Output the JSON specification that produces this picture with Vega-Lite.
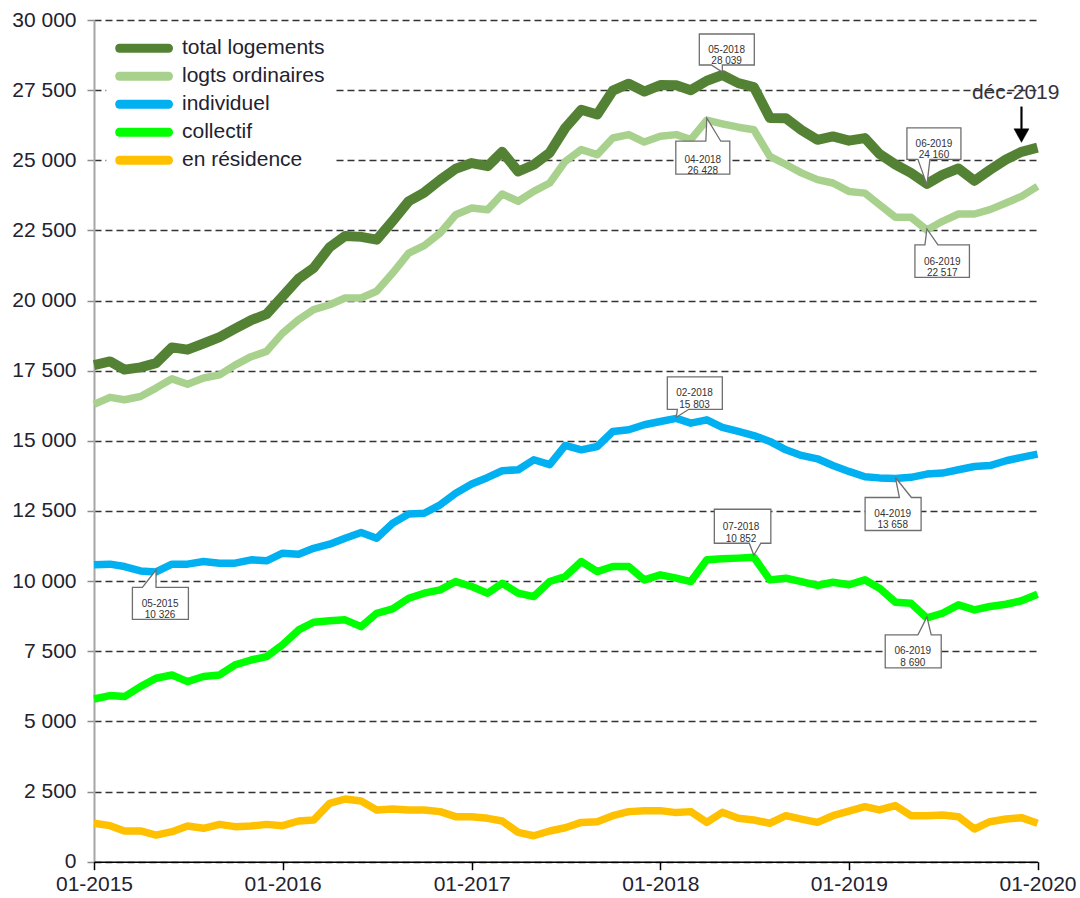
{
  "$schema": "https://vega.github.io/schema/vega-lite/v6.json",
  "width": 943.5,
  "height": 841.7,
  "autosize": {"type": "none"},
  "padding": {"left": 94, "top": 20, "right": 42.5, "bottom": 36.3},
  "background": "white",
  "config": {"font": "Liberation Sans", "view": {"stroke": null}},
  "encoding": {
    "x": {
      "field": "date", "type": "temporal",
      "scale": {"type": "utc", "domain": [{"year": 2015, "month": 1, "date": 1, "utc": true}, {"year": 2020, "month": 1, "date": 1, "utc": true}]},
      "axis": {
        "title": null,
        "values": [{"year": 2015, "month": 1, "date": 1, "utc": true}, {"year": 2016, "month": 1, "date": 1, "utc": true}, {"year": 2017, "month": 1, "date": 1, "utc": true}, {"year": 2018, "month": 1, "date": 1, "utc": true}, {"year": 2019, "month": 1, "date": 1, "utc": true}, {"year": 2020, "month": 1, "date": 1, "utc": true}],
        "labelExpr": "utcFormat(datum.value, '%m-%Y')",
        "labelFontSize": 21, "labelColor": "#222230", "labelPadding": 4,
        "labelFlush": false, "labelOverlap": false, "labelBound": false,
        "ticks": true, "tickSize": 8, "tickColor": "#000000", "tickWidth": 1.5,
        "domainColor": "#000000", "domainWidth": 1.6,
        "grid": false, "zindex": 1
      }
    },
    "y": {
      "field": "value", "type": "quantitative",
      "scale": {"domain": [0, 30000], "nice": false, "zero": true},
      "axis": {
        "title": null,
        "values": [0, 2500, 5000, 7500, 10000, 12500, 15000, 17500, 20000, 22500, 25000, 27500, 30000],
        "labelExpr": "replace(format(datum.value, ',d'), ',', ' ')",
        "labelFontSize": 21, "labelColor": "#222230", "labelPadding": 11, "labelOverlap": false,
        "tickSize": 7, "tickColor": "#8c8c8c", "tickWidth": 1.5,
        "domainColor": "#a6a6a6", "domainWidth": 2,
        "grid": true, "gridColor": "#333333", "gridDash": [7, 4], "gridWidth": 1.3
      }
    }
  },
  "layer": [
    {
      "data": {"values": [
        {"date": "2015-01-01", "total logements": 17700, "logts ordinaires": 16300, "individuel": 10580, "collectif": 5800, "en résidence": 1370},
        {"date": "2015-02-01", "total logements": 17830, "logts ordinaires": 16550, "individuel": 10605, "collectif": 5920, "en résidence": 1285},
        {"date": "2015-03-01", "total logements": 17540, "logts ordinaires": 16465, "individuel": 10520, "collectif": 5885, "en résidence": 1095},
        {"date": "2015-04-01", "total logements": 17620, "logts ordinaires": 16580, "individuel": 10365, "collectif": 6240, "en résidence": 1095},
        {"date": "2015-05-01", "total logements": 17770, "logts ordinaires": 16880, "individuel": 10326, "collectif": 6540, "en résidence": 950},
        {"date": "2015-06-01", "total logements": 18330, "logts ordinaires": 17210, "individuel": 10605, "collectif": 6655, "en résidence": 1070},
        {"date": "2015-07-01", "total logements": 18250, "logts ordinaires": 17020, "individuel": 10605, "collectif": 6420, "en résidence": 1270},
        {"date": "2015-08-01", "total logements": 18470, "logts ordinaires": 17240, "individuel": 10700, "collectif": 6600, "en résidence": 1190},
        {"date": "2015-09-01", "total logements": 18700, "logts ordinaires": 17350, "individuel": 10640, "collectif": 6655, "en résidence": 1330},
        {"date": "2015-10-01", "total logements": 19000, "logts ordinaires": 17700, "individuel": 10640, "collectif": 7015, "en résidence": 1250},
        {"date": "2015-11-01", "total logements": 19300, "logts ordinaires": 18000, "individuel": 10760, "collectif": 7190, "en résidence": 1270},
        {"date": "2015-12-01", "total logements": 19520, "logts ordinaires": 18190, "individuel": 10725, "collectif": 7310, "en résidence": 1330},
        {"date": "2016-01-01", "total logements": 20150, "logts ordinaires": 18840, "individuel": 10995, "collectif": 7730, "en résidence": 1285},
        {"date": "2016-02-01", "total logements": 20780, "logts ordinaires": 19320, "individuel": 10960, "collectif": 8260, "en résidence": 1450},
        {"date": "2016-03-01", "total logements": 21160, "logts ordinaires": 19675, "individuel": 11170, "collectif": 8535, "en résidence": 1485},
        {"date": "2016-04-01", "total logements": 21900, "logts ordinaires": 19850, "individuel": 11315, "collectif": 8585, "en résidence": 2080},
        {"date": "2016-05-01", "total logements": 22300, "logts ordinaires": 20090, "individuel": 11530, "collectif": 8620, "en résidence": 2235},
        {"date": "2016-06-01", "total logements": 22270, "logts ordinaires": 20090, "individuel": 11735, "collectif": 8380, "en résidence": 2165},
        {"date": "2016-07-01", "total logements": 22170, "logts ordinaires": 20330, "individuel": 11530, "collectif": 8855, "en résidence": 1845},
        {"date": "2016-08-01", "total logements": 22840, "logts ordinaires": 20980, "individuel": 12065, "collectif": 9010, "en résidence": 1880},
        {"date": "2016-09-01", "total logements": 23540, "logts ordinaires": 21690, "individuel": 12390, "collectif": 9390, "en résidence": 1845},
        {"date": "2016-10-01", "total logements": 23850, "logts ordinaires": 21960, "individuel": 12420, "collectif": 9570, "en résidence": 1845},
        {"date": "2016-11-01", "total logements": 24300, "logts ordinaires": 22410, "individuel": 12720, "collectif": 9690, "en résidence": 1785},
        {"date": "2016-12-01", "total logements": 24700, "logts ordinaires": 23060, "individuel": 13135, "collectif": 9985, "en résidence": 1605},
        {"date": "2017-01-01", "total logements": 24900, "logts ordinaires": 23300, "individuel": 13460, "collectif": 9810, "en résidence": 1605},
        {"date": "2017-02-01", "total logements": 24790, "logts ordinaires": 23240, "individuel": 13695, "collectif": 9570, "en résidence": 1545},
        {"date": "2017-03-01", "total logements": 25300, "logts ordinaires": 23800, "individuel": 13935, "collectif": 9925, "en résidence": 1450},
        {"date": "2017-04-01", "total logements": 24600, "logts ordinaires": 23540, "individuel": 13970, "collectif": 9570, "en résidence": 1045},
        {"date": "2017-05-01", "total logements": 24840, "logts ordinaires": 23890, "individuel": 14325, "collectif": 9450, "en résidence": 925},
        {"date": "2017-06-01", "total logements": 25270, "logts ordinaires": 24190, "individuel": 14150, "collectif": 9985, "en résidence": 1095},
        {"date": "2017-07-01", "total logements": 26150, "logts ordinaires": 24960, "individuel": 14835, "collectif": 10165, "en résidence": 1210},
        {"date": "2017-08-01", "total logements": 26800, "logts ordinaires": 25380, "individuel": 14680, "collectif": 10700, "en résidence": 1400},
        {"date": "2017-09-01", "total logements": 26630, "logts ordinaires": 25200, "individuel": 14800, "collectif": 10340, "en résidence": 1425},
        {"date": "2017-10-01", "total logements": 27480, "logts ordinaires": 25795, "individuel": 15335, "collectif": 10520, "en résidence": 1640},
        {"date": "2017-11-01", "total logements": 27730, "logts ordinaires": 25915, "individuel": 15395, "collectif": 10520, "en résidence": 1785},
        {"date": "2017-12-01", "total logements": 27450, "logts ordinaires": 25650, "individuel": 15575, "collectif": 10045, "en résidence": 1820},
        {"date": "2018-01-01", "total logements": 27680, "logts ordinaires": 25860, "individuel": 15690, "collectif": 10225, "en résidence": 1820},
        {"date": "2018-02-01", "total logements": 27670, "logts ordinaires": 25915, "individuel": 15803, "collectif": 10105, "en résidence": 1750},
        {"date": "2018-03-01", "total logements": 27500, "logts ordinaires": 25740, "individuel": 15630, "collectif": 9985, "en résidence": 1785},
        {"date": "2018-04-01", "total logements": 27835, "logts ordinaires": 26428, "individuel": 15750, "collectif": 10760, "en résidence": 1400},
        {"date": "2018-05-01", "total logements": 28039, "logts ordinaires": 26300, "individuel": 15480, "collectif": 10795, "en résidence": 1760},
        {"date": "2018-06-01", "total logements": 27750, "logts ordinaires": 26180, "individuel": 15335, "collectif": 10820, "en résidence": 1545},
        {"date": "2018-07-01", "total logements": 27610, "logts ordinaires": 26090, "individuel": 15190, "collectif": 10852, "en résidence": 1485},
        {"date": "2018-08-01", "total logements": 26510, "logts ordinaires": 25140, "individuel": 14980, "collectif": 10045, "en résidence": 1370},
        {"date": "2018-09-01", "total logements": 26500, "logts ordinaires": 24850, "individuel": 14680, "collectif": 10105, "en résidence": 1640},
        {"date": "2018-10-01", "total logements": 26080, "logts ordinaires": 24550, "individuel": 14480, "collectif": 9985, "en résidence": 1520},
        {"date": "2018-11-01", "total logements": 25730, "logts ordinaires": 24310, "individuel": 14360, "collectif": 9845, "en résidence": 1400},
        {"date": "2018-12-01", "total logements": 25850, "logts ordinaires": 24190, "individuel": 14120, "collectif": 9960, "en résidence": 1640},
        {"date": "2019-01-01", "total logements": 25700, "logts ordinaires": 23890, "individuel": 13910, "collectif": 9870, "en résidence": 1805},
        {"date": "2019-02-01", "total logements": 25790, "logts ordinaires": 23830, "individuel": 13720, "collectif": 10045, "en résidence": 1960},
        {"date": "2019-03-01", "total logements": 25230, "logts ordinaires": 23420, "individuel": 13680, "collectif": 9750, "en résidence": 1845},
        {"date": "2019-04-01", "total logements": 24850, "logts ordinaires": 22970, "individuel": 13658, "collectif": 9250, "en résidence": 2000},
        {"date": "2019-05-01", "total logements": 24550, "logts ordinaires": 22970, "individuel": 13700, "collectif": 9215, "en résidence": 1640},
        {"date": "2019-06-01", "total logements": 24160, "logts ordinaires": 22517, "individuel": 13815, "collectif": 8690, "en résidence": 1640},
        {"date": "2019-07-01", "total logements": 24480, "logts ordinaires": 22825, "individuel": 13850, "collectif": 8855, "en résidence": 1665},
        {"date": "2019-08-01", "total logements": 24710, "logts ordinaires": 23085, "individuel": 13970, "collectif": 9155, "en résidence": 1605},
        {"date": "2019-09-01", "total logements": 24270, "logts ordinaires": 23085, "individuel": 14085, "collectif": 8975, "en résidence": 1165},
        {"date": "2019-10-01", "total logements": 24660, "logts ordinaires": 23240, "individuel": 14120, "collectif": 9095, "en résidence": 1425},
        {"date": "2019-11-01", "total logements": 25030, "logts ordinaires": 23480, "individuel": 14290, "collectif": 9175, "en résidence": 1520},
        {"date": "2019-12-01", "total logements": 25300, "logts ordinaires": 23715, "individuel": 14410, "collectif": 9300, "en résidence": 1570},
        {"date": "2020-01-01", "total logements": 25450, "logts ordinaires": 24070, "individuel": 14525, "collectif": 9535, "en résidence": 1370}
      ]},
      "transform": [{"fold": ["total logements", "logts ordinaires", "individuel", "collectif", "en résidence"], "as": ["series", "value"]}],
      "mark": {"type": "line", "strokeJoin": "round", "strokeCap": "butt"},
      "encoding": {
        "color": {
          "field": "series", "type": "nominal",
          "scale": {"domain": ["total logements", "logts ordinaires", "individuel", "collectif", "en résidence"], "range": ["#548235", "#a9d18e", "#00b0f0", "#00ff00", "#ffc000"]},
          "legend": {
            "title": null, "orient": "none", "legendX": 12.25, "legendY": 5.5,
            "symbolType": "M-2.58,0L2.58,0", "symbolSize": 361, "symbolStrokeWidth": 9, "symbolOffset": 14.75,
            "labelOffset": 24, "labelFontSize": 21, "labelColor": "#222230", "labelLimit": 400,
            "clipHeight": 27.4, "rowPadding": 0, "padding": 9, "fillColor": "#ffffff",
            "encode": {"symbols": {"update": {"strokeCap": {"value": "round"}}}}
          }
        },
        "strokeWidth": {"condition": {"test": "datum.series === 'total logements'", "value": 10}, "value": 7.5}
      }
    },
    {
      "data": {"values": [{"date": "2018-05-01", "value": 28039, "label": "05-2018\n28 039"}]},
      "layer": [
        {"mark": {"type": "point", "shape": "M0,-3L0,-10L32,-10L32,-41L-23,-41L-23,-10L-11,-10Z", "size": 4, "filled": true, "fill": "#ffffff", "stroke": "#6f6f6f", "strokeWidth": 1.3, "opacity": 1}},
        {"mark": {"type": "text", "dx": 4.3, "dy": -25.3, "fontSize": 10, "lineBreak": "\n", "lineHeight": 11.5, "fill": "#333333", "align": "center", "baseline": "middle"}, "encoding": {"text": {"field": "label"}}}
      ]
    },
    {
      "data": {"values": [{"date": "2018-04-01", "value": 26428, "label": "04-2018\n26 428"}]},
      "layer": [
        {"mark": {"type": "point", "shape": "M0,-2L-1,21L-31,21L-31,54L23,54L23,21L14,21Z", "size": 4, "filled": true, "fill": "#ffffff", "stroke": "#6f6f6f", "strokeWidth": 1.3, "opacity": 1}},
        {"mark": {"type": "text", "dx": -4, "dy": 39.5, "fontSize": 10, "lineBreak": "\n", "lineHeight": 11.5, "fill": "#333333", "align": "center", "baseline": "middle"}, "encoding": {"text": {"field": "label"}}}
      ]
    },
    {
      "data": {"values": [{"date": "2019-06-01", "value": 24160, "label": "06-2019\n24 160"}]},
      "layer": [
        {"mark": {"type": "point", "shape": "M0,1L3,-24.5L34,-24.5L34,-56L-20,-56L-20,-24.5L-9,-24.5Z", "size": 4, "filled": true, "fill": "#ffffff", "stroke": "#6f6f6f", "strokeWidth": 1.3, "opacity": 1}},
        {"mark": {"type": "text", "dx": 7, "dy": -40, "fontSize": 10, "lineBreak": "\n", "lineHeight": 11.5, "fill": "#333333", "align": "center", "baseline": "middle"}, "encoding": {"text": {"field": "label"}}}
      ]
    },
    {
      "data": {"values": [{"date": "2019-06-01", "value": 22517, "label": "06-2019\n22 517"}]},
      "layer": [
        {"mark": {"type": "point", "shape": "M0,-1L-2,15L-12,15L-12,47.5L42.5,47.5L42.5,15L11,15Z", "size": 4, "filled": true, "fill": "#ffffff", "stroke": "#6f6f6f", "strokeWidth": 1.3, "opacity": 1}},
        {"mark": {"type": "text", "dx": 15.3, "dy": 31.8, "fontSize": 10, "lineBreak": "\n", "lineHeight": 11.5, "fill": "#333333", "align": "center", "baseline": "middle"}, "encoding": {"text": {"field": "label"}}}
      ]
    },
    {
      "data": {"values": [{"date": "2018-02-01", "value": 15803, "label": "02-2018\n15 803"}]},
      "layer": [
        {"mark": {"type": "point", "shape": "M0,-1L1,-9L-9,-9L-9,-41.5L46,-41.5L46,-9L12.5,-9Z", "size": 4, "filled": true, "fill": "#ffffff", "stroke": "#6f6f6f", "strokeWidth": 1.3, "opacity": 1}},
        {"mark": {"type": "text", "dx": 18.2, "dy": -25.3, "fontSize": 10, "lineBreak": "\n", "lineHeight": 11.5, "fill": "#333333", "align": "center", "baseline": "middle"}, "encoding": {"text": {"field": "label"}}}
      ]
    },
    {
      "data": {"values": [{"date": "2015-05-01", "value": 10326, "label": "05-2015\n10 326"}]},
      "layer": [
        {"mark": {"type": "point", "shape": "M0,-2L0,15.3L32.4,15.3L32.4,47.3L-23.6,47.3L-23.6,15.3L-13.6,15.3Z", "size": 4, "filled": true, "fill": "#ffffff", "stroke": "#6f6f6f", "strokeWidth": 1.3, "opacity": 1}},
        {"mark": {"type": "text", "dx": 4.1, "dy": 32, "fontSize": 10, "lineBreak": "\n", "lineHeight": 11.5, "fill": "#333333", "align": "center", "baseline": "middle"}, "encoding": {"text": {"field": "label"}}}
      ]
    },
    {
      "data": {"values": [{"date": "2019-04-01", "value": 13658, "label": "04-2019\n13 658"}]},
      "layer": [
        {"mark": {"type": "point", "shape": "M0,-1L16,19L25.7,19L25.7,52L-30.3,52L-30.3,19L4,19Z", "size": 4, "filled": true, "fill": "#ffffff", "stroke": "#6f6f6f", "strokeWidth": 1.3, "opacity": 1}},
        {"mark": {"type": "text", "dx": -2.7, "dy": 35.3, "fontSize": 10, "lineBreak": "\n", "lineHeight": 11.5, "fill": "#333333", "align": "center", "baseline": "middle"}, "encoding": {"text": {"field": "label"}}}
      ]
    },
    {
      "data": {"values": [{"date": "2018-07-01", "value": 10852, "label": "07-2018\n10 852"}]},
      "layer": [
        {"mark": {"type": "point", "shape": "M0,-2L7,-14L17,-14L17,-48L-39.5,-48L-39.5,-14L-4.5,-14Z", "size": 4, "filled": true, "fill": "#ffffff", "stroke": "#6f6f6f", "strokeWidth": 1.3, "opacity": 1}},
        {"mark": {"type": "text", "dx": -12.8, "dy": -30.2, "fontSize": 10, "lineBreak": "\n", "lineHeight": 11.5, "fill": "#333333", "align": "center", "baseline": "middle"}, "encoding": {"text": {"field": "label"}}}
      ]
    },
    {
      "data": {"values": [{"date": "2019-06-01", "value": 8690, "label": "06-2019\n8 690"}]},
      "layer": [
        {"mark": {"type": "point", "shape": "M0,-1L4.3,17L14.3,17L14.3,50L-41.7,50L-41.7,17L-9,17Z", "size": 4, "filled": true, "fill": "#ffffff", "stroke": "#6f6f6f", "strokeWidth": 1.3, "opacity": 1}},
        {"mark": {"type": "text", "dx": -14.1, "dy": 33.3, "fontSize": 10, "lineBreak": "\n", "lineHeight": 11.5, "fill": "#333333", "align": "center", "baseline": "middle"}, "encoding": {"text": {"field": "label"}}}
      ]
    },
    {
      "data": {"values": [{"date": "2019-12-01", "value": 25300, "label": "déc-2019"}]},
      "layer": [
        {"mark": {"type": "point", "shape": "M-0.8,-45L0.8,-45L0.8,-23L7.5,-23L0,-9.5L-7.5,-23L-0.8,-23Z", "size": 4, "filled": true, "fill": "#000000", "stroke": "#000000", "strokeWidth": 0.5, "opacity": 1}},
        {"mark": {"type": "text", "dx": -5.8, "dy": -59.3, "fontSize": 21, "fill": "#333340", "align": "center", "baseline": "middle"}, "encoding": {"text": {"field": "label"}}}
      ]
    }
  ]
}
